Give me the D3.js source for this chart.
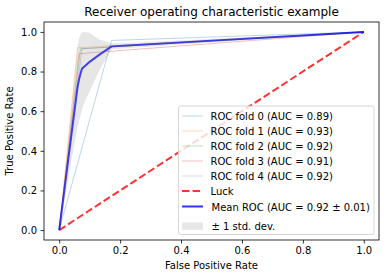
<!DOCTYPE html>
<html><head><meta charset="utf-8">
<script src="https://cdn.jsdelivr.net/npm/d3@7"></script>
<style>body{margin:0;background:#fff}svg{font-family:"DejaVu Sans",sans-serif}</style>
</head><body><svg id="c" width="386" height="278"></svg>
<script>
// ---- data ----
const foldNames = ["ROC fold 0 (AUC = 0.89)","ROC fold 1 (AUC = 0.93)","ROC fold 2 (AUC = 0.92)","ROC fold 3 (AUC = 0.91)","ROC fold 4 (AUC = 0.92)"];
const foldColors = ["#1f77b4","#ff7f0e","#2ca02c","#d62728","#9467bd"];
const foldFpr = [[0,0.172,1],[0,0.06,1],[0,0.07,1],[0,0.065,1],[0,0.075,1]];
const foldTpr = [[0,0.957,1],[0,0.92,1],[0,0.915,1],[0,0.89,1],[0,0.915,1]];
const meanFpr = [0,0.02,0.04,0.06,0.065,0.07,0.075,0.08,0.1,0.13,0.172,1];
const meanTpr = [0,0.24,0.48,0.72,0.76,0.79,0.815,0.822,0.849,0.883,0.927,1];
const upperTpr = [0,0.31,0.61,0.92,0.965,0.99,1.0,1.0,0.996,0.963,0.942,1];
const lowerTpr = [0,0.17,0.35,0.52,0.55,0.58,0.61,0.635,0.70,0.80,0.912,1];
const xTicks = [0,0.2,0.4,0.6,0.8,1.0];
const yTicks = [0,0.2,0.4,0.6,0.8,1.0];
const title = "Receiver operating characteristic example";
const xLabel = "False Positive Rate", yLabel = "True Positive Rate";
const luckLabel = "Luck", meanLabel = "Mean ROC (AUC = 0.92 \u00b1 0.01)", stdLabel = "\u00b1 1 std. dev.";

// ---- layout ----
const L=44, R=379, T=22, B=240;
const FS=10;
const svg = d3.select("#c");
const x = d3.scaleLinear().domain([-0.05,1.05]).range([L,R]);
const y = d3.scaleLinear().domain([-0.05,1.05]).range([B,T]);
const line = d3.line().x(d=>x(d[0])).y(d=>y(d[1]));

// folds
foldFpr.forEach((f,i)=>{
  svg.append("path").attr("d",line(f.map((v,j)=>[v,foldTpr[i][j]])))
    .attr("fill","none").attr("stroke",foldColors[i]).attr("stroke-opacity",0.3).attr("stroke-width",1);
});
// luck
svg.append("path").attr("d",line([[0,0],[1,1]])).attr("fill","none")
  .attr("stroke","red").attr("stroke-opacity",0.8).attr("stroke-width",2).attr("stroke-dasharray","7.4,3.2");
// mean
svg.append("path").attr("d",line(meanFpr.map((v,j)=>[v,meanTpr[j]]))).attr("fill","none")
  .attr("stroke","blue").attr("stroke-opacity",0.8).attr("stroke-width",2).attr("stroke-linejoin","round");
// band
const area = d3.area().x(d=>x(d[0])).y0(d=>y(d[1])).y1(d=>y(d[2]));
svg.append("path").attr("d",area(meanFpr.map((v,j)=>[v,lowerTpr[j],upperTpr[j]])))
  .attr("fill","grey").attr("fill-opacity",0.2);

// axes
const xa = svg.append("g").attr("transform",`translate(0,${B})`).call(d3.axisBottom(x).tickValues(xTicks).tickFormat(d3.format(".1f")).tickSizeOuter(0).tickSize(3.5).tickPadding(3.5));
const ya = svg.append("g").attr("transform",`translate(${L},0)`).call(d3.axisLeft(y).tickValues(yTicks).tickFormat(d3.format(".1f")).tickSizeOuter(0).tickSize(3.5).tickPadding(3.5));
[xa,ya].forEach(a=>{a.select(".domain").remove();a.selectAll("text").attr("font-size",FS).attr("fill","#000").attr("font-family","DejaVu Sans");a.selectAll("line").attr("stroke","#000").attr("stroke-width",0.8);});
svg.append("rect").attr("x",L).attr("y",T).attr("width",R-L).attr("height",B-T).attr("fill","none").attr("stroke","#000").attr("stroke-width",0.8);

svg.append("text").attr("x",(L+R)/2).attr("y",16).attr("text-anchor","middle").attr("font-size",12).text(title);
svg.append("text").attr("x",(L+R)/2).attr("y",269).attr("text-anchor","middle").attr("font-size",FS).text(xLabel);
svg.append("text").attr("transform",`translate(12.5,${(T+B)/2}) rotate(-90)`).attr("text-anchor","middle").attr("font-size",FS).text(yLabel);

// legend
const lg = svg.append("g");
lg.append("rect").attr("x",178.5).attr("y",106).attr("width",195.5).attr("height",128.5).attr("rx",2)
  .attr("fill","#fff").attr("fill-opacity",0.8).attr("stroke","#ccc").attr("stroke-width",0.8);
const rows = foldNames.map((n,i)=>({label:n,type:"fold",i,y:116+15*i}));
rows.push({label:luckLabel,type:"luck",y:191});
rows.push({label:meanLabel,type:"mean",y:207.5});
rows.push({label:stdLabel,type:"std",y:226});
rows.forEach(r=>{
  if(r.type==="fold") lg.append("line").attr("x1",182).attr("x2",203).attr("y1",r.y).attr("y2",r.y).attr("stroke",foldColors[r.i]).attr("stroke-opacity",0.3).attr("stroke-width",1);
  if(r.type==="luck") lg.append("line").attr("x1",182).attr("x2",203).attr("y1",r.y).attr("y2",r.y).attr("stroke","red").attr("stroke-opacity",0.8).attr("stroke-width",2).attr("stroke-dasharray","7.4,3.2");
  if(r.type==="mean") lg.append("line").attr("x1",182).attr("x2",203).attr("y1",r.y-1).attr("y2",r.y-1).attr("stroke","blue").attr("stroke-opacity",0.8).attr("stroke-width",2);
  if(r.type==="std") lg.append("rect").attr("x",182).attr("y",r.y-3.5).attr("width",21).attr("height",7.3).attr("fill","grey").attr("fill-opacity",0.2);
  lg.append("text").attr("x",r.type==="fold"||r.type==="luck"?210.5:211.5).attr("y",r.y).attr("dy","0.35em").attr("font-size",FS).text(r.label);
});
</script></body></html>
